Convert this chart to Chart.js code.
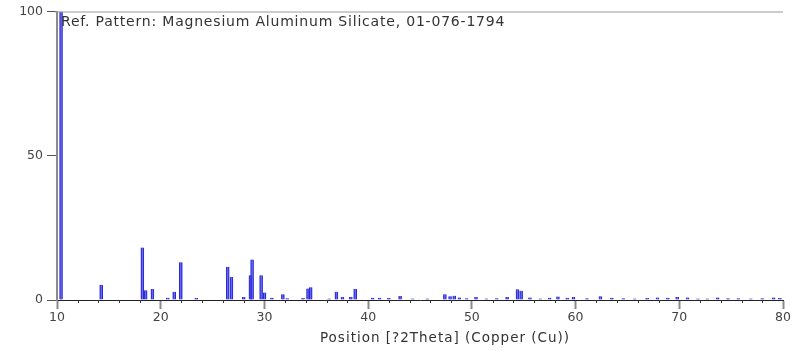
<!DOCTYPE html>
<html>
<head>
<meta charset="utf-8">
<script src="https://cdn.jsdelivr.net/npm/chart.js@4.4.1/dist/chart.umd.min.js"></script>
<style>
  html, body { margin: 0; padding: 0; background: #fff; }
  #wrap { width: 792px; height: 351px; }
</style>
</head>
<body>
<div id="wrap"><canvas id="xrdChart"></canvas></div>
<script>
// posições dos picos (2Theta) e intensidades relativas
const positions = [10.39, 14.26, 18.23, 18.55, 19.2, 20.68, 21.3, 21.94, 23.43,
  26.46, 26.82, 28.0, 28.65, 28.81, 29.68, 30.01, 30.72, 31.78, 32.2, 33.72,
  34.2, 34.46, 36.23, 36.94, 37.52, 38.33, 38.75, 40.43, 41.1, 42.0, 43.08,
  44.3, 45.7, 47.4, 47.9, 48.3, 48.8, 49.5, 50.4, 51.4, 52.4, 53.4, 54.4,
  54.75, 55.6, 56.6, 57.5, 58.3, 59.2, 59.8, 61.1, 62.4, 63.5, 64.6, 65.7,
  66.9, 67.9, 68.9, 69.8, 70.8, 71.8, 72.7, 73.7, 74.7, 75.7, 76.9, 78.0,
  79.1, 79.7];
const intensities = [100, 5.3, 18.2, 3.4, 3.8, 0.8, 2.9, 13.1, 0.7,
  11.5, 8.0, 1.0, 8.6, 14.0, 8.6, 2.6, 0.8, 2.0, 0.6, 0.7,
  4.0, 4.4, 0.5, 2.9, 1.0, 1.0, 3.8, 0.8, 0.8, 0.7, 1.4,
  0.5, 0.5, 2.0, 1.3, 1.5, 0.9, 0.6, 1.0, 0.5, 0.6, 1.0, 3.7,
  3.2, 0.9, 0.5, 0.8, 1.2, 0.8, 1.0, 0.6, 1.3, 0.8, 0.6, 0.5,
  0.7, 0.9, 0.8, 1.0, 0.9, 0.5, 0.5, 0.9, 0.6, 0.6, 0.5, 0.6,
  0.9, 0.7];
const yTicks = [0, 50, 100];
const xMajor = [10, 20, 30, 40, 50, 60, 70, 80];
const refLabel = "Ref. Pattern: Magnesium Aluminum Silicate, 01-076-1794";
const xTitle = "Position [?2Theta] (Copper (Cu))";

const peaks = positions.map((p, i) => ({ x: p, y: intensities[i] }));

// desenha borda superior, ticks menores, legenda e título do eixo
const extrasPlugin = {
  id: "extras",
  afterDraw(chart) {
    const ctx = chart.ctx;
    const area = chart.chartArea;
    const xs = chart.scales.x;
    ctx.save();
    ctx.strokeStyle = "#9a9a9a";
    ctx.lineWidth = 1;
    ctx.beginPath();
    ctx.moveTo(area.left - 2, area.top + 0.5);
    ctx.lineTo(area.right, area.top + 0.5);
    ctx.stroke();

    // ticks menores a cada 2 graus
    ctx.strokeStyle = "#333";
    for (let v = 10; v <= 80; v += 2) {
      if (v % 10 === 0) continue;
      const px = Math.round(xs.getPixelForValue(v)) + 0.5;
      ctx.beginPath();
      ctx.moveTo(px, area.bottom);
      ctx.lineTo(px, area.bottom + 3);
      ctx.stroke();
    }

    ctx.fillStyle = "#333";
    ctx.font = "14px 'DejaVu Sans'";
    ctx.letterSpacing = "0.8px";
    ctx.textBaseline = "middle";
    ctx.textAlign = "left";
    ctx.fillText(refLabel, area.left + 4, area.top + 11);

    ctx.font = "13.5px 'DejaVu Sans'";
    ctx.letterSpacing = "1px";
    ctx.textAlign = "center";
    ctx.fillText(xTitle, 445, 338);
    ctx.restore();
  },
};

new Chart(document.getElementById("xrdChart").getContext("2d"), {
  type: "bar",
  data: {
    datasets: [
      {
        data: peaks,
        backgroundColor: "rgba(95, 95, 245, 0.55)",
        borderColor: "rgba(30, 30, 210, 0.95)",
        borderWidth: { left: 1, right: 1, top: 0, bottom: 0 },
        barThickness: 3,
        grouped: false,
      },
    ],
  },
  options: {
    responsive: true,
    maintainAspectRatio: false,
    animation: false,
    layout: { padding: { top: 11, right: 9, left: 0, bottom: 0 } },
    plugins: {
      legend: { display: false },
      tooltip: { enabled: false },
    },
    scales: {
      x: {
        type: "linear",
        min: 10,
        max: 80,
        offset: false,
        afterFit(scale) { scale.height = 51; },
        afterBuildTicks(scale) { scale.ticks = xMajor.map(v => ({ value: v })); },
        grid: {
          offset: false,
          drawOnChartArea: false,
          drawTicks: true,
          tickLength: 9,
          tickColor: "#8a8a8a",
          tickWidth: 2,
        },
        border: { color: "#222", width: 1 },
        ticks: {
          color: "#444",
          font: { family: "DejaVu Sans", size: 12.5 },
          padding: 1,
          maxRotation: 0,
        },
      },
      y: {
        min: 0,
        max: 100,
        afterFit(scale) { scale.width = 57; },
        afterBuildTicks(scale) { scale.ticks = yTicks.map(v => ({ value: v })); },
        grid: {
          offset: false,
          drawOnChartArea: false,
          drawTicks: true,
          tickLength: 10,
          tickColor: "#555",
          tickWidth: 1,
        },
        border: { color: "#8a8a8a", width: 2 },
        ticks: {
          color: "#444",
          font: { family: "DejaVu Sans", size: 12.5 },
          padding: 4,
        },
      },
    },
  },
  plugins: [extrasPlugin],
});
</script>
</body>
</html>
